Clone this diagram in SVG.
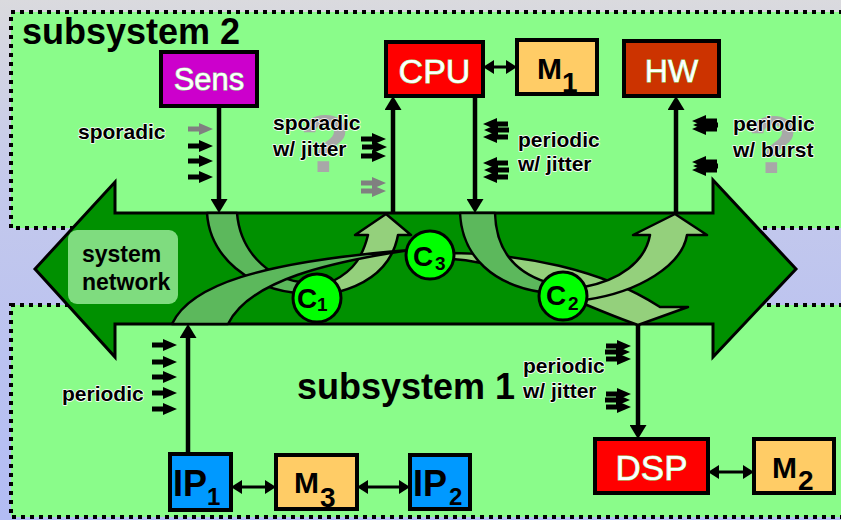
<svg xmlns="http://www.w3.org/2000/svg" width="841" height="520" viewBox="0 0 841 520">
<defs>
  <linearGradient id="bg" x1="0" y1="0" x2="0" y2="1">
    <stop offset="0" stop-color="#dadade"/>
    <stop offset="0.35" stop-color="#c4c9ec"/>
    <stop offset="1" stop-color="#b2bcf4"/>
  </linearGradient>
  <marker id="ah" viewBox="0 0 14 17" refX="8" refY="8.5" markerWidth="14" markerHeight="17" markerUnits="userSpaceOnUse" orient="auto-start-reverse">
    <path d="M0,0 L14,8.5 L0,17 Z" fill="#000"/>
  </marker>
  <marker id="ah2" viewBox="0 0 11 14" refX="7" refY="7" markerWidth="11" markerHeight="14" markerUnits="userSpaceOnUse" orient="auto-start-reverse">
    <path d="M0,0 L11,7 L0,14 Z" fill="#000"/>
  </marker>
  <path id="ar" d="M0,-2.5 H11 V-6 L25,0 L11,6 V2.5 H0 Z"/>
  <path id="al" d="M25,-2.5 H14 V-6 L0,0 L14,6 V2.5 H25 Z"/>
  <style>
    .sub { fill: #8afc8a; stroke: #000; stroke-width: 4; stroke-dasharray: 4 5; }
    .title { font-family: "Liberation Sans", Arial, sans-serif; font-weight: bold; font-size: 36px; fill: #000; }
    .lbl { font-family: "Liberation Sans", Arial, sans-serif; font-weight: bold; font-size: 21px; fill: #000; stroke: #fff; stroke-width: 1.6; stroke-linejoin: round; paint-order: stroke; }
    .q { font-family: "Liberation Sans", Arial, sans-serif; font-weight: bold; font-size: 82px; fill: #a8a8a8; }
    .box { stroke: #000; stroke-width: 4; }
    .wt { font-family: "Liberation Sans", Arial, sans-serif; fill: #ffffff; stroke: #90f090; stroke-width: 1; paint-order: stroke; text-anchor: middle; }
    .bt { font-family: "Liberation Sans", Arial, sans-serif; font-weight: bold; fill: #000; }
    .mid { fill: #5cb85c; stroke: #000; stroke-width: 2.5; stroke-linejoin: round; }
    .lite { fill: #94d07c; stroke: #000; stroke-width: 2.5; stroke-linejoin: round; }
    .circ { fill: #00ff00; stroke: #000; stroke-width: 3; }
    .ct { font-family: "Liberation Sans", Arial, sans-serif; font-weight: bold; font-size: 28px; fill: #000; }
    .cs { font-family: "Liberation Sans", Arial, sans-serif; font-weight: bold; font-size: 19px; fill: #000; }
    .conn { stroke: #000; stroke-width: 4.5; fill: none; }
    .conn2 { stroke: #000; stroke-width: 3; fill: none; }
    .blk { fill: #000; }
    .gry { fill: #808080; }
  </style>
</defs>

<rect x="0" y="0" width="841" height="520" fill="url(#bg)"/>

<!-- subsystem boxes -->
<rect class="sub" x="11" y="12" width="900" height="216"/>
<rect class="sub" x="11" y="305" width="900" height="212"/>
<text class="title" x="22" y="44">subsystem 2</text>
<text class="title" x="297" y="399">subsystem 1</text>

<!-- question marks -->
<text class="q" x="300" y="172">?</text>
<text class="q" x="748" y="173">?</text>

<!-- labels -->
<text class="lbl" x="78" y="139">sporadic</text>
<text class="lbl" x="273" y="130">sporadic</text>
<text class="lbl" x="273" y="156">w/ jitter</text>
<text class="lbl" x="518" y="147">periodic</text>
<text class="lbl" x="518" y="171">w/ jitter</text>
<text class="lbl" x="733" y="131">periodic</text>
<text class="lbl" x="733" y="157">w/ burst</text>
<text class="lbl" x="62" y="401">periodic</text>
<text class="lbl" x="523" y="373">periodic</text>
<text class="lbl" x="523" y="398">w/ jitter</text>

<!-- event stream glyphs -->
<g id="events">
  <use href="#ar" class="gry" x="188" y="129"/>
  <use href="#ar" class="blk" x="188" y="146"/>
  <use href="#ar" class="blk" x="188" y="161"/>
  <use href="#ar" class="blk" x="188" y="177"/>

  <use href="#ar" class="blk" x="361" y="139"/>
  <use href="#ar" class="blk" x="362" y="147"/>
  <use href="#ar" class="blk" x="361" y="156"/>
  <use href="#ar" class="gry" x="361" y="183"/>
  <use href="#ar" class="gry" x="361" y="191"/>

  <use href="#al" class="blk" x="483" y="124"/>
  <use href="#al" class="blk" x="484" y="130"/>
  <use href="#al" class="blk" x="483" y="137"/>
  <use href="#al" class="blk" x="483" y="163"/>
  <use href="#al" class="blk" x="484" y="170"/>
  <use href="#al" class="blk" x="483" y="177"/>

  <use href="#al" class="blk" x="692" y="121"/>
  <use href="#al" class="blk" x="693" y="125"/>
  <use href="#al" class="blk" x="692" y="129"/>
  <use href="#al" class="blk" x="692" y="162"/>
  <use href="#al" class="blk" x="693" y="166"/>
  <use href="#al" class="blk" x="692" y="170"/>

  <use href="#ar" class="blk" x="152" y="345"/>
  <use href="#ar" class="blk" x="152" y="362"/>
  <use href="#ar" class="blk" x="152" y="377"/>
  <use href="#ar" class="blk" x="152" y="393"/>
  <use href="#ar" class="blk" x="152" y="409"/>

  <use href="#ar" class="blk" x="606" y="346"/>
  <use href="#ar" class="blk" x="605" y="352"/>
  <use href="#ar" class="blk" x="606" y="359"/>
  <use href="#ar" class="blk" x="606" y="394"/>
  <use href="#ar" class="blk" x="605" y="400"/>
  <use href="#ar" class="blk" x="606" y="407"/>
</g>

<!-- system network -->
<g id="network">
  <path d="M35,269 L115,182 L115,213 L713,213 L713,180 L796,269 L713,357 L713,324 L115,324 L115,357 Z" fill="#009000" stroke="#000" stroke-width="3" stroke-linejoin="miter"/>
  <rect x="68" y="230" width="110" height="74" rx="9" fill="#7fdc7f"/>
  <text class="bt" x="82" y="262" font-size="23">system</text>
  <text class="bt" x="82" y="290" font-size="23">network</text>
  <path class="mid" d="M207,213 C210,258 250,288 296,293 L300,282 C266,277 240,250 237,213 Z"/>
  <path class="lite" d="M333,281 C355,270 363,255 368,235 L355,235 L386,214 L411,235 L398,235 C393,262 375,282 338,292 Z"/>
  <path class="mid" d="M172,324 C190,285 260,262 410,250 C330,262 250,280 228,324 Z"/>
  <path class="lite" d="M452,253 C520,254 600,268 660,307 L688,307 L638,325 C612,316 592,307 570,298 C535,282 500,262 452,259 Z"/>
  <path class="mid" d="M460,213 C462,258 495,285 541,292 L546,282 C515,272 496,250 495,213 Z"/>
  <path class="lite" d="M584,287 C620,280 645,262 650,235 L633,235 L675,214 L707,235 L687,235 C682,265 640,292 585,300 Z"/>
</g>
<g id="c1"><circle class="circ" cx="317" cy="298" r="24"/><text class="ct" x="297" y="308">C</text><text class="cs" x="317" y="311">1</text></g>
<g id="c3"><circle class="circ" cx="430" cy="255" r="24"/><text class="ct" x="413" y="266">C</text><text class="cs" x="435" y="270">3</text></g>
<g id="c2"><circle class="circ" cx="563" cy="296" r="24"/><text class="ct" x="546" y="305">C</text><text class="cs" x="568" y="310">2</text></g>

<!-- connectors -->
<g id="connectors">
  <path class="conn" d="M219,106 V207" marker-end="url(#ah)"/>
  <path class="conn" d="M393,213 V102" marker-end="url(#ah)"/>
  <path class="conn" d="M475,96 V207" marker-end="url(#ah)"/>
  <path class="conn" d="M676,213 V102" marker-end="url(#ah)"/>
  <path class="conn" d="M188,454 V330" marker-end="url(#ah)"/>
  <path class="conn" d="M638,324 V433" marker-end="url(#ah)"/>
  <path class="conn2" d="M487,67 H513" marker-start="url(#ah2)" marker-end="url(#ah2)"/>
  <path class="conn2" d="M235,487 H272" marker-start="url(#ah2)" marker-end="url(#ah2)"/>
  <path class="conn2" d="M361,487 H406" marker-start="url(#ah2)" marker-end="url(#ah2)"/>
  <path class="conn2" d="M712,472 H750" marker-start="url(#ah2)" marker-end="url(#ah2)"/>
</g>

<!-- nodes -->
<g id="sens"><rect class="box" x="161" y="52" width="96" height="54" fill="#cc00cc"/><text class="wt" x="209" y="90" font-size="31">Sens</text></g>
<g id="cpu"><rect class="box" x="386" y="42" width="97" height="54" fill="#ff0000"/><text class="wt" x="434.5" y="83" font-size="34">CPU</text></g>
<g id="m1"><rect class="box" x="517" y="40" width="80" height="54" fill="#ffcc66"/><text class="bt" x="537" y="79" font-size="30">M</text><text class="bt" x="562" y="92" font-size="28">1</text></g>
<g id="hw"><rect class="box" x="624" y="41" width="95" height="55" fill="#cc3300"/><text class="wt" x="671.5" y="82" font-size="32">HW</text></g>
<g id="ip1"><rect class="box" x="170" y="454" width="61" height="56" fill="#0099ff"/><text class="bt" x="173" y="496" font-size="36">IP</text><text class="bt" x="207" y="505" font-size="24">1</text></g>
<g id="m3"><rect class="box" x="276" y="455" width="81" height="54" fill="#ffcc66"/><text class="bt" x="294" y="493" font-size="30">M</text><text class="bt" x="320" y="507" font-size="28">3</text></g>
<g id="ip2"><rect class="box" x="410" y="455" width="60" height="54" fill="#0099ff"/><text class="bt" x="413" y="496" font-size="36">IP</text><text class="bt" x="449" y="505" font-size="24">2</text></g>
<g id="dsp"><rect class="box" x="595" y="439" width="113" height="54" fill="#ff0000"/><text class="wt" x="651.5" y="480" font-size="35">DSP</text></g>
<g id="m2"><rect class="box" x="754" y="439" width="80" height="54" fill="#ffcc66"/><text class="bt" x="772" y="478" font-size="30">M</text><text class="bt" x="798" y="490" font-size="28">2</text></g>
</svg>
